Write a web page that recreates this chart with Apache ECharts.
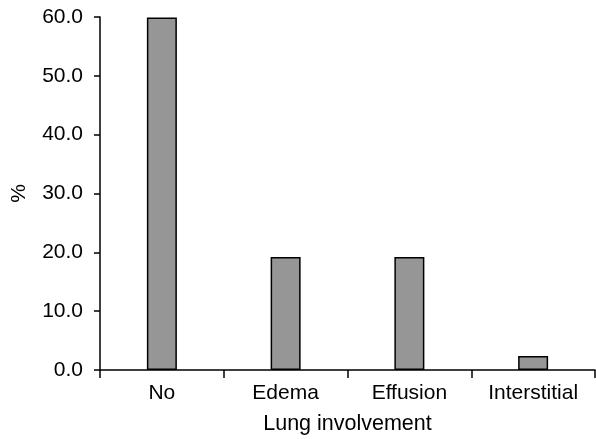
<!DOCTYPE html>
<html>
<head>
<meta charset="utf-8">
<script src="https://cdn.jsdelivr.net/npm/echarts@6/dist/echarts.min.js"></script>
<style>
  html, body { margin: 0; padding: 0; background: #fff; }
  #chart { width: 596px; height: 439px; }
</style>
</head>
<body>
<div id="chart"></div>
<script>
const categories = ['No', 'Edema', 'Effusion', 'Interstitial'];
const percentValues = [59.9, 19.2, 19.2, 2.4];
const yTicks = [0, 10, 20, 30, 40, 50, 60];

const chart = echarts.init(document.getElementById('chart'));
const font = 'Liberation Sans';

chart.setOption({
  animation: false,
  grid: { left: 100, right: 1, top: 17, bottom: 69, outerBoundsMode: 'none', containLabel: false },
  xAxis: {
    type: 'category',
    data: categories,
    name: 'Lung involvement',
    nameLocation: 'middle',
    nameGap: 43,
    nameTextStyle: { color: '#000', fontSize: 21.5, fontFamily: font },
    axisLine: { lineStyle: { color: '#000', width: 1.5 } },
    axisTick: { show: true, alignWithLabel: false, length: 8, lineStyle: { color: '#000', width: 1.5 } },
    axisLabel: { color: '#000', fontSize: 21, fontFamily: font, margin: 13 }
  },
  yAxis: {
    type: 'value',
    min: yTicks[0],
    max: yTicks[yTicks.length - 1],
    interval: 10,
    name: '%',
    nameLocation: 'middle',
    nameGap: 70,
    nameRotate: 90,
    nameTextStyle: { color: '#000', fontSize: 21, fontFamily: font },
    axisLine: { show: true, lineStyle: { color: '#000', width: 1.5 } },
    axisTick: { show: true, length: 6, lineStyle: { color: '#000', width: 1.5 } },
    axisLabel: {
      color: '#000', fontSize: 21, fontFamily: font, margin: 17,
      formatter: v => v.toFixed(1)
    },
    splitLine: { show: false }
  },
  series: [{
    type: 'bar',
    data: percentValues,
    barWidth: 30,
    itemStyle: { color: '#969696', borderColor: '#000', borderWidth: 1.5 }
  }]
});
</script>
</body>
</html>
